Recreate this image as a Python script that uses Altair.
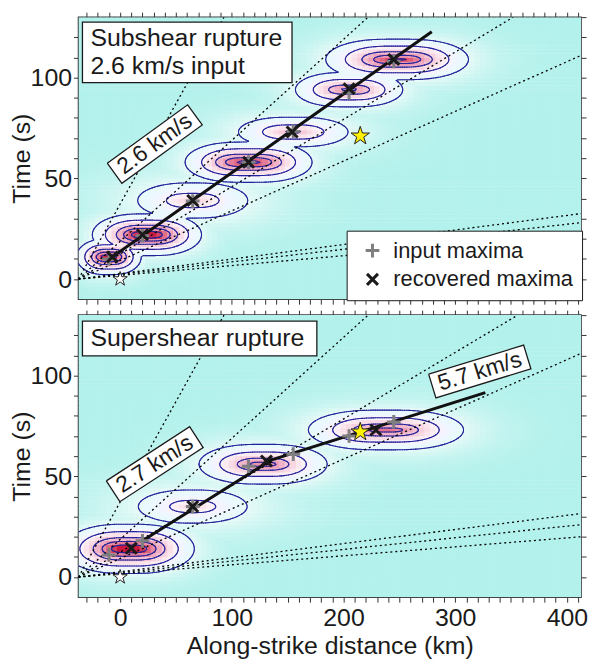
import altair as alt
import numpy as np
import pandas as pd

alt.data_transformers.disable_max_rows()

X_DOMAIN = [-37.3, 412.7]
T_DOMAIN = [-10, 130]
X_TICKS = list(range(-30, 411, 10))
Y_TICKS_LEFT = list(range(0, 121, 10))
Y_TICKS_RIGHT = list(range(0, 131, 10))

top_input_x = [-10, 20, 65, 115, 155, 205, 245]
top_input_t = [10, 21.5, 38.7, 58, 73.3, 92.5, 108]
top_recov_x = [-7, 20, 65, 115, 154, 205, 245]
top_recov_t = [11, 22, 39, 58, 73, 94.5, 109]

bot_input_x = [-10, 20, 65, 115, 155, 205, 245]
bot_input_t = [11, 18, 35, 55, 61, 70, 77]
bot_recov_x = [10, 65, 131, 229]
bot_recov_t = [14.3, 35, 57.6, 73]

top_fit_x = [-7, 279]
top_fit_t = [11, 122.7]
bot_fit_x = [20, 135, 327]
bot_fit_t = [18, 58, 91.5]

hypo_x, hypo_t = [0], [0]
top_star_x, top_star_t = [215], [71]
bot_star_x, bot_star_t = [215], [72]

dot_start_x, dot_start_t = -37.3, 0
top_dot_end_x = [93, 222, 352, 412.7, 412.7, 412.7, 412.7]
top_dot_end_t = [130, 130, 130, 111, 32.5, 28, 22]
bot_dot_end_x = [93, 222, 356, 412.7, 412.7, 412.7, 412.7]
bot_dot_end_t = [130, 130, 130, 111, 31.5, 26, 20]

top_speed_text = ["2.6 km/s"]
top_speed_x = [31]
top_speed_t = [67]
top_speed_angle = [324]
bot_speed_text = ["2.7 km/s", "5.7 km/s"]
bot_speed_x = [31, 322]
bot_speed_t = [56, 102]
bot_speed_angle = [327, 343]

# energy blobs: centre, amplitude, decay widths and soft half-width along x
top_blob_x = [-10, 24, 65, 115, 155, 205, 248]
top_blob_t = [11, 22, 39, 58, 73, 94, 109]
top_blob_a = [0.9, 1.0, 0.32, 0.8, 0.38, 0.55, 0.75]
top_blob_sx = [10, 16, 36, 20, 30, 22, 24]
top_blob_st = [4, 4.5, 7.5, 4.8, 5.5, 5, 5]
top_blob_hw = [8, 14, 8, 18, 10, 12, 18]

bot_blob_x = [8, 65, 128, 238]
bot_blob_t = [14, 35, 56, 73]
bot_blob_a = [1.0, 0.3, 0.6, 0.6]
bot_blob_sx = [20, 40, 26, 30]
bot_blob_st = [5.3, 7.5, 5.5, 5.5]
bot_blob_hw = [14, 5, 12, 18]

contour_levels = [0.1, 0.2, 0.35, 0.5, 0.7]

FONT = "Liberation Sans"
PLUS = "M-1,0L1,0M0,-1L0,1"
CROSS = "M-0.8,-0.8L0.8,0.8M-0.8,0.8L0.8,-0.8"
BOX = "M-1,-0.25L1,-0.25L1,0.25L-1,0.25L-1,-0.25"
STAR = ("M0,-1L0.225,-0.309L0.951,-0.309L0.363,0.118L0.588,0.809L0,0.382"
        "L-0.588,0.809L-0.363,0.118L-0.951,-0.309L-0.225,-0.309L0,-1")
KINDS = ["input maxima", "recovered maxima"]

XS = alt.Scale(domain=X_DOMAIN, nice=False, zero=False)
YS = alt.Scale(domain=T_DOMAIN, nice=False, zero=False)
W, H = 506, 284


def field(xx, tt, blobs):
    f = np.zeros_like(xx, dtype=float)
    for x0, t0, a, sx, st, hw in zip(*blobs):
        d = xx - x0
        dx = (np.sqrt(d ** 2 + hw ** 2) - hw) / sx
        r = np.sqrt(dx ** 2 + ((tt - t0) / st) ** 2)
        f = np.maximum(f, a * np.exp(-r))
    return f


def contour_segments(xs, ts, F, level):
    segs = []
    above = F > level
    s = (above[:-1, :-1].astype(int) + above[:-1, 1:] + above[1:, :-1] + above[1:, 1:])
    for i, j in np.argwhere((s > 0) & (s < 4)):
        f00, f01, f10, f11 = F[i, j], F[i, j + 1], F[i + 1, j], F[i + 1, j + 1]
        x0, x1, t0, t1 = xs[j], xs[j + 1], ts[i], ts[i + 1]
        pts = []
        if (f00 > level) != (f01 > level):
            u = (level - f00) / (f01 - f00)
            pts.append((x0 + u * (x1 - x0), t0))
        if (f01 > level) != (f11 > level):
            u = (level - f01) / (f11 - f01)
            pts.append((x1, t0 + u * (t1 - t0)))
        if (f10 > level) != (f11 > level):
            u = (level - f10) / (f11 - f10)
            pts.append((x0 + u * (x1 - x0), t1))
        if (f00 > level) != (f10 > level):
            u = (level - f00) / (f10 - f00)
            pts.append((x0, t0 + u * (t1 - t0)))
        if len(pts) == 2:
            segs.append((*pts[0], *pts[1]))
        elif len(pts) == 4:
            segs.append((*pts[0], *pts[1]))
            segs.append((*pts[2], *pts[3]))
    return segs


def X(f, axis=None):
    return alt.X(f, type="quantitative", scale=XS, axis=axis)


def Y(f, axis=None):
    return alt.Y(f, type="quantitative", scale=YS, axis=axis)


def panel(blobs, inx, intt, rcx, rct, fitx, fitt, starx, start, dotx, dott,
          sp_text, sp_x, sp_t, sp_ang, box_text, box_rect, box_txt_xy, bottom):
    hx = np.arange(-35, 416, 5.0)
    ht = np.arange(-9, 131, 2.0)
    HX, HT = np.meshgrid(hx, ht)
    HF = field(HX, HT, blobs)
    heat = pd.DataFrame({
        "x0": np.clip(HX - 2.75, *X_DOMAIN).ravel().round(2),
        "x1": np.clip(HX + 2.75, *X_DOMAIN).ravel().round(2),
        "t0": np.clip(HT - 1.1, *T_DOMAIN).ravel().round(2),
        "t1": np.clip(HT + 1.1, *T_DOMAIN).ravel().round(2),
        "f": HF.ravel().round(3)})
    cx = np.linspace(X_DOMAIN[0], X_DOMAIN[1], 226)
    ct = np.linspace(T_DOMAIN[0], T_DOMAIN[1], 201)
    CX, CT = np.meshgrid(cx, ct)
    CF = field(CX, CT, blobs)
    rows = []
    for lv in contour_levels:
        rows += contour_segments(cx, ct, CF, lv)
    cont = pd.DataFrame(np.round(np.array(rows), 2), columns=["xa", "ta", "xb", "tb"])

    x_axis = alt.Axis(orient="bottom", values=X_TICKS, labels=bottom,
                      labelExpr="datum.value % 100 === 0 ? datum.label : ''",
                      labelOverlap=False, labelFlush=False, tickSize=5,
                      labelPadding=3, titlePadding=4,
                      title="Along-strike distance (km)" if bottom else None)
    y_axis = alt.Axis(orient="left", values=Y_TICKS_LEFT,
                      labelExpr="datum.value % 50 === 0 ? datum.label : ''",
                      labelOverlap=False, labelFlush=False, tickSize=5,
                      labelPadding=2, titleX=-44, title="Time (s)")
    x_top = alt.Axis(orient="top", values=X_TICKS, labels=False, tickSize=5, title=None)
    y_right = alt.Axis(orient="right", values=Y_TICKS_RIGHT, labels=False, tickSize=5,
                       title=None)

    heat_layer = alt.Chart(heat).mark_rect(clip=True).encode(
        x=X("x0", x_axis), x2="x1", y=Y("t0", y_axis), y2="t1",
        fill=alt.Fill("f:Q", legend=None, scale=alt.Scale(
            domain=[0, 0.1, 0.22, 0.45, 0.8],
            range=["#b2f1ec", "#e8faf8", "#fcf1f5", "#eda5bd", "#c8163f"], clamp=True)))

    cont_layer = alt.Chart(cont).mark_rule(clip=True, color="#23239b", strokeWidth=1.1,
                                           strokeCap="round").encode(
        x=X("xa", x_top), x2="xb", y=Y("ta", y_right), y2="tb")

    n = len(dotx)
    dots = pd.DataFrame({"id": list(range(n)) * 2,
                         "x": [dot_start_x] * n + dotx,
                         "t": [dot_start_t] * n + dott})
    dot_layer = alt.Chart(dots).mark_line(clip=True, color="black", strokeWidth=1.3,
                                          strokeDash=[2, 3]).encode(
        x=X("x"), y=Y("t"), detail="id:N")

    box_df = pd.DataFrame({"text": [box_text]})
    bx0, by0, bx1, by1 = box_rect
    box_layer = alt.Chart(box_df).mark_rect(fill="white", stroke="#1a1a1a", strokeWidth=1.3).encode(
        x=alt.value(bx0), x2=alt.value(bx1), y=alt.value(by0), y2=alt.value(by1))
    box_text_layer = alt.Chart(box_df).mark_text(
        align="left", baseline="alphabetic", font=FONT, fontSize=25, lineBreak="\n",
        lineHeight=28, color="#1a1a1a").encode(
        x=alt.value(box_txt_xy[0]), y=alt.value(box_txt_xy[1]), text="text:N")

    fit_df = pd.DataFrame({"x": fitx, "t": fitt})
    fit_layer = alt.Chart(fit_df).mark_line(color="#111111", strokeWidth=3).encode(
        x=X("x"), y=Y("t"))

    mk = pd.DataFrame({"x": inx + rcx, "t": intt + rct,
                       "kind": [KINDS[0]] * len(inx) + [KINDS[1]] * len(rcx)})
    if bottom:
        leg = None
    else:
        leg = alt.Legend(title=None, orient="none", legendX=270, legendY=215,
                         fillColor="white", strokeColor="#1a1a1a", padding=9,
                         labelFontSize=22, labelFont=FONT, labelColor="#1a1a1a",
                         labelLimit=400, symbolSize=190, symbolStrokeWidth=3,
                         rowPadding=4, labelOffset=10, symbolOffset=6)
    mk_layer = alt.Chart(mk).mark_point(filled=False, strokeWidth=3, size=190, opacity=1).encode(
        x=X("x"), y=Y("t"),
        stroke=alt.Stroke("kind:N", legend=leg,
                          scale=alt.Scale(domain=KINDS, range=["#7f7f7f", "#1a1a1a"])),
        shape=alt.Shape("kind:N", legend=leg,
                        scale=alt.Scale(domain=KINDS, range=[PLUS, CROSS])))

    hypo_df = pd.DataFrame({"x": hypo_x, "t": hypo_t})
    hypo_layer = alt.Chart(hypo_df).mark_point(shape=STAR, filled=True, fill="white",
                                               stroke="#222", strokeWidth=1, size=230,
                                               opacity=1).encode(x=X("x"), y=Y("t"))
    star_df = pd.DataFrame({"x": starx, "t": start})
    star_layer = alt.Chart(star_df).mark_point(shape=STAR, filled=True, fill="#fff200",
                                               stroke="#222", strokeWidth=1, size=380,
                                               opacity=1).encode(x=X("x"), y=Y("t"))

    sp_df = pd.DataFrame({"text": sp_text, "x": sp_x, "t": sp_t, "ang": sp_ang})
    sp_box = alt.Chart(sp_df).mark_point(shape=BOX, filled=True, fill="white", stroke="#1a1a1a",
                                         strokeWidth=1.3, size=10000, opacity=1).encode(
        x=X("x"), y=Y("t"), angle=alt.Angle("ang:Q", scale=None))
    sp_txt = alt.Chart(sp_df).mark_text(font=FONT, fontSize=23, align="center",
                                        baseline="middle", color="#1a1a1a").encode(
        x=X("x"), y=Y("t"), text="text:N", angle=alt.Angle("ang:Q", scale=None))

    layers = [heat_layer, cont_layer, dot_layer, box_layer, box_text_layer, fit_layer,
              mk_layer, hypo_layer, star_layer, sp_box, sp_txt]
    return alt.layer(*layers).resolve_axis(x="independent", y="independent").properties(
        width=W, height=H)


top_blobs = (top_blob_x, top_blob_t, top_blob_a, top_blob_sx, top_blob_st, top_blob_hw)
bot_blobs = (bot_blob_x, bot_blob_t, bot_blob_a, bot_blob_sx, bot_blob_st, bot_blob_hw)

top = panel(top_blobs,
            top_input_x, top_input_t, top_recov_x, top_recov_t, top_fit_x, top_fit_t,
            top_star_x, top_star_t, top_dot_end_x, top_dot_end_t,
            top_speed_text, top_speed_x, top_speed_t, top_speed_angle,
            "Subshear rupture\n2.6 km/s input", (4, 5, 215, 66), (12, 29), False)
bot = panel(bot_blobs,
            bot_input_x, bot_input_t, bot_recov_x, bot_recov_t, bot_fit_x, bot_fit_t,
            bot_star_x, bot_star_t, bot_dot_end_x, bot_dot_end_t,
            bot_speed_text, bot_speed_x, bot_speed_t, bot_speed_angle,
            "Supershear rupture", (4, 6, 240, 41), (12, 31), True)

chart = alt.vconcat(top, bot, spacing=2).resolve_scale(
    stroke="independent", shape="independent", fill="independent"
).properties(
    padding={"left": 9, "top": 8, "right": 2, "bottom": 2},
    background="white",
).configure_view(
    stroke="#3a3a3a", strokeWidth=1.5
).configure_axis(
    labelFont=FONT, titleFont=FONT, labelFontSize=25, titleFontSize=25,
    labelColor="#1a1a1a", titleColor="#1a1a1a", titleFontWeight="normal",
    tickColor="#333333", tickWidth=1, domain=False, grid=False
)

chart.save("out.html", embed_options={"renderer": "svg", "actions": False})
